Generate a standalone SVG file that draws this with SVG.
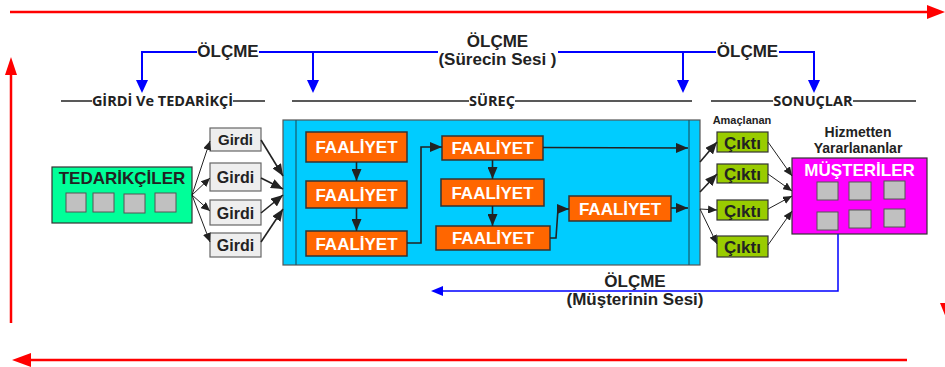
<svg xmlns="http://www.w3.org/2000/svg" width="945" height="367" viewBox="0 0 945 367">
<style>
.t{font-family:"Liberation Sans",Arial,sans-serif;font-weight:bold;text-anchor:middle}
.h{font-family:"Open Sans","DejaVu Sans",sans-serif;font-weight:bold;font-size:14.5px;fill:#222;text-anchor:middle}
.red{stroke:#FF0000;stroke-width:2.5;fill:none}
.blue{stroke:#0000FF;stroke-width:2;fill:none}
.hl{stroke:#222;stroke-width:1.5}
.fa{fill:#FF6600;stroke:#333;stroke-width:1.5}
.ck{fill:#99CC00;stroke:#333;stroke-width:1.2}
.gd{fill:#EEEEEE;stroke:#666;stroke-width:1.2}
.sq{fill:#C0C0C0;stroke:#555;stroke-width:1}
.ln{stroke:#222;stroke-width:1.6;fill:none}
.thin{stroke:#222;stroke-width:1;fill:none}
</style>
<defs>
<marker id="ab" markerUnits="userSpaceOnUse" markerWidth="13" markerHeight="10" refX="12" refY="5" orient="auto"><path d="M0,0 L12,5 L0,10 z" fill="#222"/></marker>
<marker id="as" markerUnits="userSpaceOnUse" markerWidth="10" markerHeight="8" refX="9" refY="4" orient="auto"><path d="M0,0 L9,4 L0,8 z" fill="#222"/></marker>
</defs>
<g id="cycle">
<line class="red" x1="10" y1="12" x2="928" y2="12"/>
<polygon points="927,5 945,12 927,19" fill="#FF0000"/>
<line class="red" x1="11" y1="74" x2="11" y2="323"/>
<polygon points="5,75 11,57 17,75" fill="#FF0000"/>
<line class="red" x1="30" y1="360" x2="907" y2="360"/>
<polygon points="31,353 12,360 31,367" fill="#FF0000"/>
<polygon points="940,303 954,303 947,320" fill="#FF0000"/>
</g>
<g id="headers">
<line class="hl" x1="61" y1="101" x2="92" y2="101"/><line class="hl" x1="233" y1="101" x2="265" y2="101"/>
<text class="h" x="162.5" y="106">GİRDİ Ve TEDARİKÇİ</text>
<line class="hl" x1="292" y1="101" x2="469" y2="101"/><line class="hl" x1="515" y1="101" x2="692" y2="101"/>
<text class="h" x="492" y="106">SÜREÇ</text>
<line class="hl" x1="711" y1="101" x2="773" y2="101"/><line class="hl" x1="853" y1="101" x2="916" y2="101"/>
<text class="h" x="813" y="106">SONUÇLAR</text>
</g>
<g id="measure-top">
<path class="blue" d="M197,52 H142 V81"/><polygon points="136,80 148,80 142,93" fill="#0000FF"/>
<path class="blue" d="M259,52 H438 M313,52 V81"/><polygon points="307,80 319,80 313,93" fill="#0000FF"/>
<text class="t" x="228" y="57" font-size="17" fill="#222">ÖLÇME</text>
<text class="t" x="497.5" y="47" font-size="17" fill="#222">ÖLÇME</text>
<text class="t" x="497.5" y="65" font-size="17" fill="#222">(Sürecin Sesi )</text>
<path class="blue" d="M558,52 H716 M683,52 V81"/><polygon points="677,80 689,80 683,93" fill="#0000FF"/>
<path class="blue" d="M779,52 H814 V81"/><polygon points="808,80 820,80 814,93" fill="#0000FF"/>
<text class="t" x="747.5" y="57" font-size="17" fill="#222">ÖLÇME</text>
</g>
<g id="tedarikciler">
<rect x="52" y="167" width="140" height="56" fill="#00FF99" stroke="#333" stroke-width="1.2"/>
<text class="t" x="122" y="184" font-size="17" fill="#222">TEDARİKÇİLER</text>
<rect class="sq" x="66" y="193" width="20" height="19"/>
<rect class="sq" x="93" y="193" width="21" height="19"/>
<rect class="sq" x="124" y="194" width="21" height="19"/>
<rect class="sq" x="155" y="193" width="21" height="19"/>
</g>
<g id="girdi1"><rect class="gd" x="210" y="128" width="51" height="23"/><text class="t" x="235.5" y="145" font-size="15" fill="#222">Girdi</text></g>
<g id="girdi2"><rect class="gd" x="210" y="163" width="51" height="28"/><text class="t" x="235.5" y="183" font-size="16" fill="#222">Girdi</text></g>
<g id="girdi3"><rect class="gd" x="210" y="200" width="51" height="25"/><text class="t" x="235.5" y="219" font-size="16" fill="#222">Girdi</text></g>
<g id="girdi4"><rect class="gd" x="210" y="233" width="51" height="24"/><text class="t" x="235.5" y="251" font-size="16" fill="#222">Girdi</text></g>
<g id="process">
<rect x="283" y="120" width="417" height="145" fill="#00CCFF" stroke="#555" stroke-width="1.2"/>
<line x1="296" y1="120" x2="296" y2="265" stroke="#1a5a6a" stroke-width="1.2"/>
<line x1="689" y1="120" x2="689" y2="265" stroke="#1a5a6a" stroke-width="1.2"/>
</g>
<g id="faaliyet1"><rect class="fa" x="306" y="132" width="101" height="30"/><text class="t" x="356.5" y="153" font-size="17" fill="#fff">FAALİYET</text></g>
<g id="faaliyet2"><rect class="fa" x="306" y="181" width="101" height="27"/><text class="t" x="356.5" y="200.5" font-size="17" fill="#fff">FAALİYET</text></g>
<g id="faaliyet3"><rect class="fa" x="306" y="231" width="101" height="25"/><text class="t" x="356.5" y="249.5" font-size="17" fill="#fff">FAALİYET</text></g>
<g id="faaliyet4"><rect class="fa" x="442" y="136" width="101" height="24"/><text class="t" x="492.5" y="154" font-size="17" fill="#fff">FAALİYET</text></g>
<g id="faaliyet5"><rect class="fa" x="441" y="179" width="103" height="27"/><text class="t" x="492.5" y="198.5" font-size="17" fill="#fff">FAALİYET</text></g>
<g id="faaliyet6"><rect class="fa" x="436" y="226" width="114" height="24"/><text class="t" x="493" y="244" font-size="17" fill="#fff">FAALİYET</text></g>
<g id="faaliyet7"><rect class="fa" x="569" y="196" width="102" height="25"/><text class="t" x="620" y="214.5" font-size="17" fill="#fff">FAALİYET</text></g>
<g id="cikti1"><rect class="ck" x="717" y="132" width="51" height="20"/><text class="t" x="742.5" y="148.5" font-size="17" fill="#222">Çıktı</text></g>
<g id="cikti2"><rect class="ck" x="717" y="164" width="51" height="19"/><text class="t" x="742.5" y="180" font-size="17" fill="#222">Çıktı</text></g>
<g id="cikti3"><rect class="ck" x="717" y="200" width="51" height="20"/><text class="t" x="742.5" y="216.5" font-size="17" fill="#222">Çıktı</text></g>
<g id="cikti4"><rect class="ck" x="717" y="236" width="51" height="21"/><text class="t" x="742.5" y="253" font-size="17" fill="#222">Çıktı</text></g>
<text class="t" x="742" y="124" font-size="11" fill="#222">Amaçlanan</text>
<g id="musteriler">
<text class="t" x="858" y="137" font-size="14" fill="#222">Hizmetten</text>
<text class="t" x="858" y="153" font-size="14" fill="#222">Yararlananlar</text>
<rect x="792" y="158" width="135" height="76" fill="#FF00FF" stroke="#333" stroke-width="1.2"/>
<text class="t" x="859.5" y="176" font-size="17" fill="#fff">MÜŞTERİLER</text>
<rect class="sq" x="817" y="182" width="21" height="18"/>
<rect class="sq" x="849" y="182" width="22" height="18"/>
<rect class="sq" x="884" y="181" width="21" height="18"/>
<rect class="sq" x="817" y="212" width="21" height="18"/>
<rect class="sq" x="849" y="210" width="22" height="18"/>
<rect class="sq" x="884" y="209" width="21" height="18"/>
</g>
<g id="connectors">
<line class="thin" x1="192" y1="195" x2="210" y2="141" marker-end="url(#as)"/>
<line class="thin" x1="192" y1="195" x2="210" y2="178" marker-end="url(#as)"/>
<line class="thin" x1="192" y1="195" x2="210" y2="211" marker-end="url(#as)"/>
<line class="thin" x1="192" y1="195" x2="210" y2="242" marker-end="url(#as)"/>
<line class="ln" x1="261" y1="140" x2="283" y2="176" marker-end="url(#ab)"/>
<line class="ln" x1="261" y1="178" x2="283" y2="189" marker-end="url(#ab)"/>
<line class="ln" x1="261" y1="213" x2="283" y2="195" marker-end="url(#ab)"/>
<line class="ln" x1="261" y1="242" x2="283" y2="209" marker-end="url(#ab)"/>
<line class="ln" x1="356.5" y1="162" x2="356.5" y2="181" marker-end="url(#ab)"/>
<line class="ln" x1="356.5" y1="208" x2="356.5" y2="231" marker-end="url(#ab)"/>
<path class="ln" d="M407,243 H421 V147 H442" marker-end="url(#ab)"/>
<line class="ln" x1="492.5" y1="160" x2="492.5" y2="179" marker-end="url(#ab)"/>
<line class="ln" x1="492.5" y1="206" x2="492.5" y2="226" marker-end="url(#ab)"/>
<path class="ln" d="M550,238 H556 L558,209 H569" marker-end="url(#ab)"/>
<line class="ln" x1="543" y1="147.5" x2="688" y2="148" marker-end="url(#ab)"/>
<line class="ln" x1="671" y1="208" x2="688" y2="208" marker-end="url(#ab)"/>
<line class="ln" x1="700" y1="162" x2="717" y2="142" marker-end="url(#ab)"/>
<line class="ln" x1="700" y1="192" x2="717" y2="174" marker-end="url(#ab)"/>
<line class="thin" x1="700" y1="209" x2="717" y2="210" marker-end="url(#as)"/>
<line class="thin" x1="700" y1="209" x2="717" y2="244" marker-end="url(#as)"/>
<line class="thin" x1="768" y1="142" x2="792" y2="176" marker-end="url(#as)"/>
<line class="thin" x1="768" y1="174" x2="792" y2="191" marker-end="url(#as)"/>
<line class="thin" x1="768" y1="209" x2="792" y2="196" marker-end="url(#as)"/>
<line class="thin" x1="768" y1="245" x2="792" y2="211" marker-end="url(#as)"/>
</g>
<g id="measure-bottom">
<path d="M838,234 V291 H442" stroke="#0000FF" stroke-width="1.5" fill="none"/>
<polygon points="443,286 431,291 443,296" fill="#0000FF"/>
<text class="t" x="635" y="287" font-size="17" fill="#222">ÖLÇME</text>
<text class="t" x="635" y="305" font-size="17" fill="#222">(Müşterinin Sesi)</text>
</g>
</svg>
